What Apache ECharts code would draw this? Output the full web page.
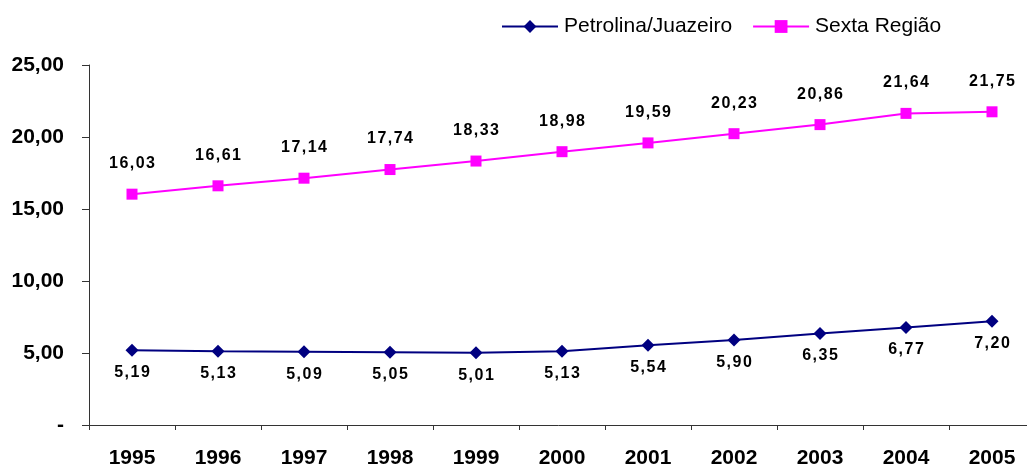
<!DOCTYPE html>
<html><head><meta charset="utf-8">
<script src="https://cdn.jsdelivr.net/npm/echarts@6/dist/echarts.min.js"></script>
<style>html,body{margin:0;padding:0;background:#fff}#c{width:1027px;height:466px}</style>
</head><body><div id="c"></div>
<script>
const years = ['1995','1996','1997','1998','1999','2000','2001','2002','2003','2004','2005'];
const petrolina = [5.19,5.13,5.09,5.05,5.01,5.13,5.54,5.90,6.35,6.77,7.20];
const sexta = [16.03,16.61,17.14,17.74,18.33,18.98,19.59,20.23,20.86,21.64,21.75];
const fmt = v => v.toFixed(2).replace('.', ',');
const spaced = v => fmt(v).split('').map(ch => '{c|' + ch + '}').join('');
const chart = echarts.init(document.getElementById('c'));
const font = 'Liberation Sans, Arial, sans-serif';
const labelRich = {c: {fontFamily: font, fontSize: 16, fontWeight: 'bold', color: '#000', padding: [0, 0.75, 0, 0.75]}};
chart.setOption({
  animation: false,
  legend: {
    top: 11, left: 496, itemWidth: 56, itemHeight: 16, itemGap: 20,
    textStyle: {fontFamily: font, fontSize: 21, color: '#000', padding: [0, 0, 0, 1]},
    data: ['Petrolina/Juazeiro', 'Sexta Região']
  },
  grid: {left: 89, top: 65, width: 946, height: 360, containLabel: false, outerBoundsMode: 'none'},
  xAxis: {
    type: 'category', data: years, boundaryGap: true,
    axisLine: {lineStyle: {color: '#333', width: 1}},
    axisTick: {show: true, length: 5, lineStyle: {color: '#333'}},
    axisLabel: {fontFamily: font, fontSize: 21, fontWeight: 'bold', color: '#000', margin: 23}
  },
  yAxis: {
    type: 'value', min: 0, max: 25, interval: 5,
    splitLine: {show: false},
    axisLine: {show: true, lineStyle: {color: '#333', width: 1}},
    axisTick: {show: true, length: 7, lineStyle: {color: '#333'}},
    axisLabel: {fontFamily: font, fontSize: 21, fontWeight: 'bold', color: '#000', margin: 25,
      formatter: v => v === 0 ? '-' : fmt(v)}
  },
  series: [
    {
      name: 'Petrolina/Juazeiro', type: 'line', data: petrolina,
      symbol: 'diamond', symbolSize: 13,
      lineStyle: {color: '#000080', width: 2}, itemStyle: {color: '#000080'},
      label: {show: true, position: 'bottom', distance: 8, rich: labelRich,
        formatter: p => spaced(p.value)}
    },
    {
      name: 'Sexta Região', type: 'line', data: sexta,
      symbol: 'rect', symbolSize: 11,
      lineStyle: {color: '#FF00FF', width: 2}, itemStyle: {color: '#FF00FF'},
      label: {show: true, position: 'top', distance: 17, rich: labelRich,
        formatter: p => spaced(p.value)}
    }
  ]
});
</script></body></html>
